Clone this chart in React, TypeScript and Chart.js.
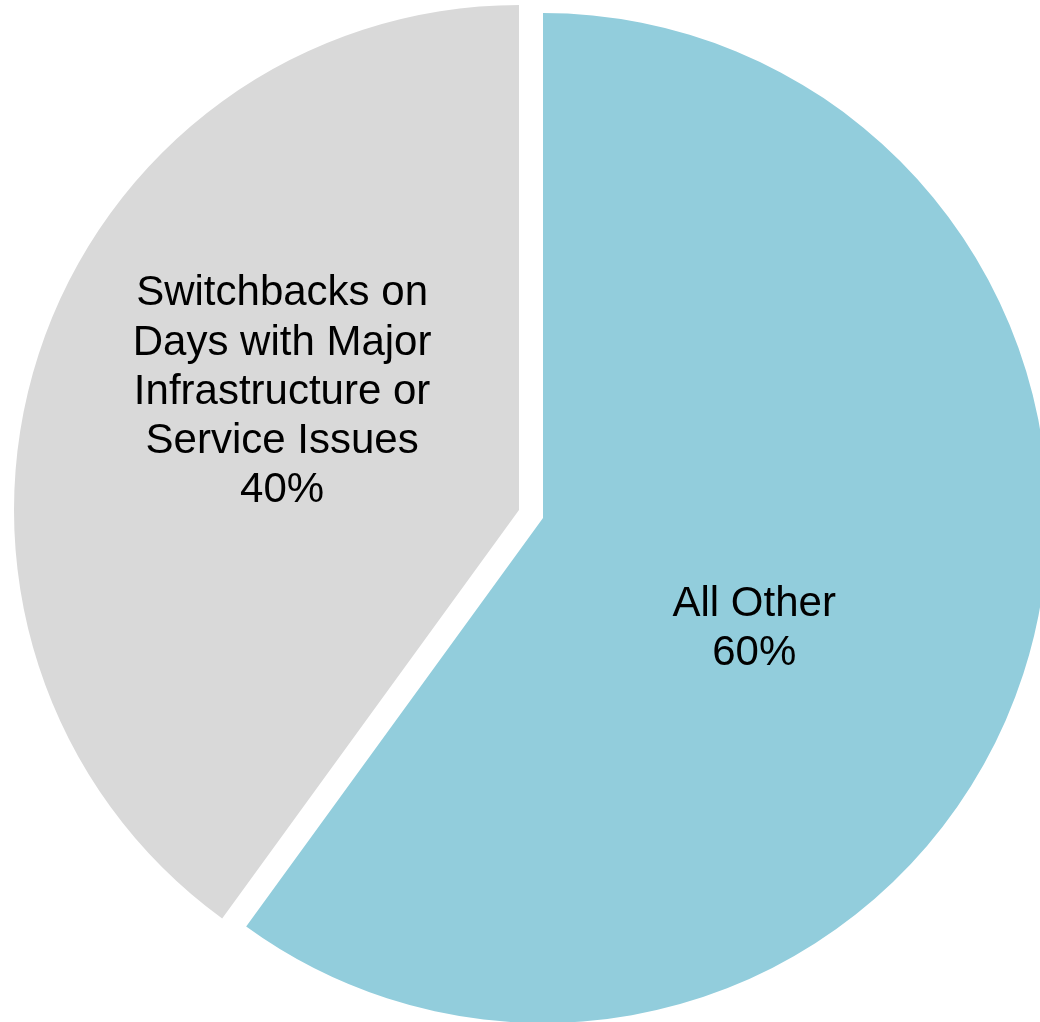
import React, { useEffect, useRef } from "react";
import { Chart, registerables } from "chart.js";

Chart.register(...registerables);

// Share of switchbacks by cause
const categories = [
  "All Other",
  "Switchbacks on Days with Major Infrastructure or Service Issues",
];
const shares = [60, 40];
const sliceColors = ["#92CDDC", "#D9D9D9"];
const labelLines = [
  ["All Other"],
  ["Switchbacks on", "Days with Major", "Infrastructure or", "Service Issues"],
];

const WIDTH = 1040;
const HEIGHT = 1022;
const PIE_RADIUS = 505;
const LABEL_FONT = 42;
const LINE_HEIGHT = 49.2;
// label anchor per slice: fraction of the radius and angular shift from the bisector
const LABEL_RADIUS = [0.469, 0.527];
const LABEL_SHIFT_DEG = [8.9, 9.1];
// the "All Other" slice is pulled out from the centre
const EXPLODE = { left: 24, top: 8 };

const TRANSPARENT = "rgba(0,0,0,0)";

function makeLabelPlugin(index: number) {
  return {
    id: "sliceLabel" + index,
    afterDatasetsDraw(chart: any) {
      const meta = chart.getDatasetMeta(0);
      const arc = meta.data[index];
      if (!arc) return;
      const { x, y, startAngle, endAngle, outerRadius } = arc.getProps(
        ["x", "y", "startAngle", "endAngle", "outerRadius"],
        true
      );
      const a = (startAngle + endAngle) / 2 + (LABEL_SHIFT_DEG[index] * Math.PI) / 180;
      const cx = x + Math.cos(a) * outerRadius * LABEL_RADIUS[index];
      const cy = y + Math.sin(a) * outerRadius * LABEL_RADIUS[index];
      const total = shares.reduce((s, v) => s + v, 0);
      const pct = Math.round((shares[index] / total) * 100) + "%";
      const lines = [...labelLines[index], pct];
      const ctx = chart.ctx;
      ctx.save();
      ctx.font = `${LABEL_FONT}px "Liberation Sans", Arial, sans-serif`;
      ctx.fillStyle = "#000000";
      ctx.textAlign = "center";
      ctx.textBaseline = "alphabetic";
      const capHalf = (LABEL_FONT * 0.716) / 2;
      const firstBase = cy - ((lines.length - 1) * LINE_HEIGHT) / 2 + capHalf;
      lines.forEach((line, i) => {
        ctx.fillText(line, cx, firstBase + i * LINE_HEIGHT);
      });
      ctx.restore();
    },
  };
}

function PieLayer({ index, left, top }: { index: number; left: number; top: number }) {
  const ref = useRef<HTMLCanvasElement>(null);
  useEffect(() => {
    const canvas = ref.current;
    if (!canvas) return;
    const chart = new Chart(canvas, {
      type: "pie",
      data: {
        labels: categories,
        datasets: [
          {
            data: shares,
            backgroundColor: sliceColors.map((c, i) => (i === index ? c : TRANSPARENT)),
            borderWidth: 0,
            hoverOffset: 0,
            radius: PIE_RADIUS,
          } as any,
        ],
      },
      options: {
        animation: false,
        responsive: false,
        devicePixelRatio: 1,
        events: [],
        layout: { padding: { left: 0, top: 0, right: 2, bottom: 2 } },
        plugins: {
          legend: { display: false },
          tooltip: { enabled: false },
          title: { display: false },
        },
      },
      plugins: [makeLabelPlugin(index)],
    });
    return () => chart.destroy();
  }, [index]);
  return (
    <canvas
      ref={ref}
      width={WIDTH}
      height={HEIGHT}
      style={{ position: "absolute", left, top, width: WIDTH, height: HEIGHT }}
    />
  );
}

export default function App() {
  return (
    <div
      style={{
        position: "fixed",
        left: 0,
        top: 0,
        width: WIDTH,
        height: HEIGHT,
        overflow: "hidden",
        background: "#ffffff",
      }}
    >
      <PieLayer index={1} left={0} top={0} />
      <PieLayer index={0} left={EXPLODE.left} top={EXPLODE.top} />
    </div>
  );
}
